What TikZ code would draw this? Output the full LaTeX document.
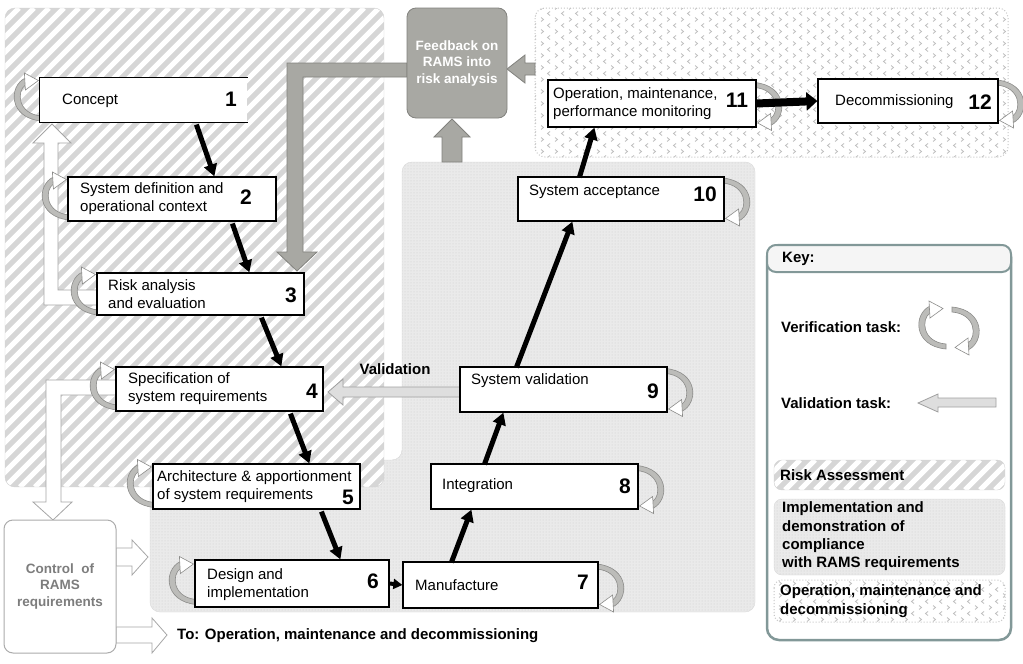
\documentclass[tikz,border=0pt]{standalone}
\usepackage{fontspec}
\setmainfont{Liberation Sans}
\usetikzlibrary{arrows.meta,patterns,calc}
\pgfdeclarelayer{back}
\pgfdeclarelayer{mid}
\pgfsetlayers{back,mid,main}
\definecolor{hatchbg}{RGB}{214,214,214}
\definecolor{implbg}{RGB}{234,234,234}
\definecolor{fbgray}{RGB}{168,168,163}
\definecolor{fbdraw}{RGB}{130,130,126}
\definecolor{valfill}{RGB}{222,222,222}
\definecolor{valdraw}{RGB}{160,160,160}
\definecolor{keyteal}{RGB}{130,152,152}
\definecolor{cycfill}{RGB}{188,188,185}
\definecolor{cycdraw}{RGB}{140,140,138}
\definecolor{ctrltext}{RGB}{125,125,125}
\pgfdeclarepatternformonly{chev}{\pgfqpoint{-1pt}{-1pt}}{\pgfqpoint{15pt}{13pt}}{\pgfqpoint{14pt}{12pt}}{%
  \pgfsetlinewidth{0.8pt}%
  \pgfpathmoveto{\pgfqpoint{4pt}{0.5pt}}\pgfpathlineto{\pgfqpoint{1.5pt}{2.5pt}}\pgfpathlineto{\pgfqpoint{4pt}{4.5pt}}%
  \pgfpathmoveto{\pgfqpoint{9pt}{6.5pt}}\pgfpathlineto{\pgfqpoint{11.5pt}{8.5pt}}\pgfpathlineto{\pgfqpoint{9pt}{10.5pt}}%
  \pgfusepath{stroke}}
\newcommand\bxfont{\fontsize{15}{18}\selectfont}
\newcommand\hatchbox[5]{%
  \begin{scope}
    \clip[rounded corners=#5] (#1,#2) rectangle (#3,#4);
    \fill[hatchbg] (#1,#2) rectangle (#3,#4);
    \foreach \c in {-520,-505,...,1030}{\draw[white,line width=5pt] (\c,#4) -- ++({#4-#2},{#2-#4});}
  \end{scope}
  \draw[gray!35,rounded corners=#5] (#1,#2) rectangle (#3,#4);}
\begin{document}
\begin{tikzpicture}[x=1pt,y=-1pt,
  box/.style={draw=black,line width=1.2pt,fill=white,inner sep=0pt},
  txt/.style={font=\bxfont,inner sep=0pt,align=left,anchor=west},
  num/.style={font=\fontsize{21}{21}\selectfont\bfseries,inner sep=0pt},
  btxt/.style={font=\fontsize{15}{18.3}\selectfont\bfseries,inner sep=0pt,align=left,anchor=west},
  blk/.style={line width=5pt,-{Triangle[length=12pt,width=13pt]}},
  hollow/.style={fill=white,draw=gray!70,line width=0.8pt},
  gblock/.style={fill=fbgray,draw=fbdraw,line width=0.8pt},
  valarrow/.style={fill=valfill,draw=valdraw,line width=0.8pt},
  verif/.pic={
    \fill[cycfill,draw=cycdraw,line width=0.6pt] (-14,-22) .. controls (-31,-14) and (-31,18) .. (2,21) -- (2,16) .. controls (-22,14) and (-23,-9) .. (-14,-15) -- cycle;
    \filldraw[fill=white,draw=cycdraw,line width=0.6pt] (-15,-27) -- (-1,-19.5) -- (-14,-10) -- cycle;
  }]
\useasboundingbox (0,0) rectangle (1023,664);

% ---------- boxes ----------
\node[box,draw=none,minimum width=207pt,minimum height=44pt] (b1) at (143.5,100) {};
\draw[line width=1.2pt] (b1.north east) -- (b1.north west) -- (b1.south west) -- (b1.south east);
\node[box,minimum width=208pt,minimum height=44pt] (b2) at (172,199) {};
\node[box,minimum width=207pt,minimum height=42pt] (b3) at (200.5,294) {};
\node[box,minimum width=207pt,minimum height=44pt] (b4) at (219.5,389) {};
\node[box,minimum width=207pt,minimum height=45pt] (b5) at (256.5,486.5) {};
\node[box,minimum width=194pt,minimum height=47pt] (b6) at (292,583.5) {};
\node[box,minimum width=195pt,minimum height=46pt] (b7) at (500.5,585) {};
\node[box,minimum width=207pt,minimum height=45pt] (b8) at (534.5,486.5) {};
\node[box,minimum width=207pt,minimum height=45pt] (b9) at (563.5,389.5) {};
\node[box,minimum width=206pt,minimum height=44pt] (b10) at (621,199) {};
\node[box,minimum width=208pt,minimum height=47pt] (b11) at (652,103.5) {};
\node[box,minimum width=180pt,minimum height=44pt] (b12) at (908,101) {};

% box texts
\node[txt] (t1) at (62,101) {Concept};
\node[num] (n1) at (231,99) {1};
\node[txt] (t2) at (80,198.5) {System definition and\\operational context};
\node[num] (n2) at (246,197) {2};
\node[txt] (t3) at (108,294) {Risk analysis\\and evaluation};
\node[num] (n3) at (291,295) {3};
\node[txt] (t4) at (128,389) {Specification of\\system requirements};
\node[num] (n4) at (312,391) {4};
\node[txt] (t5) at (157,487) {Architecture \& apportionment\\of system requirements};
\node[num] (n5) at (348,497) {5};
\node[txt] (t6) at (207,584.5) {Design and\\implementation};
\node[num] (n6) at (373,581) {6};
\node[txt] (t7) at (415,585) {Manufacture};
\node[num] (n7) at (583,582) {7};
\node[txt] (t8) at (442,486) {Integration};
\node[num] (n8) at (625,486) {8};
\node[txt] (t9) at (471,381) {System validation};
\node[num] (n9) at (653,391) {9};
\node[txt] (t10) at (529,192) {System acceptance};
\node[num] (n10) at (705,194) {10};
\node[txt] (t11) at (553,104) {Operation, maintenance,\\performance monitoring};
\node[num] (n11) at (737,100) {11};
\node[txt] (t12) at (835,102) {Decommissioning};
\node[num] (n12) at (980,102) {12};

% feedback and control
\node[fill=fbgray,draw=fbdraw,line width=0.8pt,rounded corners=9pt,minimum width=100pt,minimum height=110pt,inner sep=0pt] (fb) at (457,63) {};
\node[font=\fontsize{13.5}{16.5}\selectfont\bfseries,text=white,align=center,inner sep=0pt] (fbt) at (457,63.5) {Feedback on\\RAMS into\\risk analysis};
\node[fill=white,draw=gray!65,line width=1pt,rounded corners=9pt,minimum width=112pt,minimum height=133pt,inner sep=0pt] (ctrl) at (60,586.5) {};
\node[font=\fontsize{13.5}{16.5}\selectfont\bfseries,text=ctrltext,align=center,inner sep=0pt] (ctrlt) at (60,586.5) {Control\ \ of\\RAMS\\requirements};
\node[font=\fontsize{15}{18}\selectfont\bfseries,inner sep=0pt,anchor=west] (tolab) at (177,636) {To: Operation, maintenance and decommissioning};
\node[font=\fontsize{15}{18}\selectfont\bfseries,inner sep=0pt] (vallab) at (395,369) {Validation};

% ---------- key ----------
\node[draw=keyteal,line width=2.5pt,rounded corners=12pt,minimum width=244pt,minimum height=395pt,inner sep=0pt] (key) at (889,442.5) {};
\node[draw=keyteal,fill=gray!8,line width=2pt,rounded corners=9pt,minimum width=244pt,minimum height=27pt,inner sep=0pt] (keyhead) at (889,258.5) {};
\node[btxt] (keyt) at (782,259) {Key:};
\node[btxt] (kver) at (781,327) {Verification task:};
\node[btxt] (kval) at (781,403) {Validation task:};
\node[btxt] (krisk) at (780,475) {Risk Assessment};
\node[btxt] (kimpl) at (782,536.5) {Implementation and\\demonstration of\\compliance\\with RAMS requirements};
\node[btxt] (kop) at (780,601) {Operation, maintenance and\\decommissioning};
\coordinate (kvl) at (944,328);
\coordinate (kvr) at (954,328);

% ---------- black flow arrows ----------
\draw[blk] ([xshift=157pt,yshift=-2pt]b1.south west) -- ([xshift=147pt]b2.north west);
\draw[blk] ([xshift=165pt,yshift=-2pt]b2.south west) -- ([xshift=153pt]b3.north west);
\draw[blk] ([xshift=165pt,yshift=-2pt]b3.south west) -- ([xshift=166pt]b4.north west);
\draw[blk] ([xshift=175pt,yshift=-2pt]b4.south west) -- ([xshift=157pt]b5.north west);
\draw[blk] ([xshift=169pt,yshift=-2pt]b5.south west) -- ([xshift=146pt]b6.north west);
\draw[line width=4pt,-{Triangle[length=9pt,width=10pt]}] (b6.east) -- (b7.west);
\draw[blk] ([xshift=49pt,yshift=-1pt]b7.north west) -- ([xshift=41pt]b8.south west);
\draw[blk] ([xshift=54pt,yshift=-1pt]b8.north west) -- ([xshift=44pt]b9.south west);
\draw[blk] ([xshift=57pt,yshift=-1pt]b9.north west) -- ([xshift=55pt]b10.south west);
\draw[blk] ([xshift=62pt,yshift=-1pt]b10.north west) -- ([xshift=47pt]b11.south west);
\draw[line width=8pt,-{Triangle[length=11pt,width=18pt]}] (b11.east) -- (b12.west);

% ---------- mid layer: block arrows and verification cycles ----------
\begin{pgfonlayer}{mid}
  % hollow arrows
  \filldraw[hollow] (97,290) -- (58,290) -- (58,143) -- (71,143) -- (52,124) -- (33,143) -- (44,143) -- (44,305) -- (97,305) -- cycle;
  \filldraw[hollow] (116,380) -- (46,380) -- (46,502) -- (33,502) -- (53,520) -- (72,502) -- (61,502) -- (61,395) -- (116,395) -- cycle;
  \filldraw[hollow] (116,548) -- (132,548) -- (132,540) -- (148,557) -- (132,575) -- (132,566) -- (116,566) -- cycle;
  \filldraw[hollow] (116,627) -- (152,627) -- (152,618) -- (167,635) -- (152,653) -- (152,643) -- (116,643) -- cycle;
  % gray block arrows (feedback)
  \filldraw[gblock] (407,63) -- (287,63) -- (287,252) -- (277,252) -- (297,271) -- (317,252) -- (303,252) -- (303,77) -- (407,77) -- cycle;
  \filldraw[gblock] (535,63) -- (525,63) -- (525,55) -- (507,69) -- (525,83) -- (525,75) -- (535,75) -- cycle;
  \filldraw[gblock] (442,162) -- (442,137) -- (434,137) -- (452,119) -- (470,137) -- (462,137) -- (462,162) -- cycle;
  % validation arrows
  \filldraw[valarrow] (460,387) -- (343,387) -- (343,379) -- (328,392) -- (343,405) -- (343,397) -- (460,397) -- cycle;
  \filldraw[valarrow] (996,398) -- (938,398) -- (938,394) -- (918,403) -- (938,412) -- (938,407) -- (996,407) -- cycle;
  % verification cycles
  \pic at (b1.west) {verif};
  \pic at (b2.west) {verif};
  \pic at (b3.west) {verif};
  \pic at (b4.west) {verif};
  \pic at (b5.west) {verif};
  \pic at (b6.west) {verif};
  \pic[rotate=180] at (b7.east) {verif};
  \pic[rotate=180] at (b8.east) {verif};
  \pic[rotate=180] at (b9.east) {verif};
  \pic[rotate=180] at (b10.east) {verif};
  \pic[rotate=180] at (b11.east) {verif};
  \pic[rotate=180] at (b12.east) {verif};
  \pic at (kvl) {verif};
  \pic[rotate=180] at (kvr) {verif};
\end{pgfonlayer}

% ---------- back layer: regions ----------
\begin{pgfonlayer}{back}
  \fill[white] (0,0) rectangle (1023,664);
  % implementation region
  \fill[implbg,rounded corners=10pt] (402,162) -- (755,162) -- (755,612) -- (150,612) -- (150,460) -- (402,460) -- cycle;
  \fill[pattern=dots,pattern color=gray!40,rounded corners=10pt] (402,162) -- (755,162) -- (755,612) -- (150,612) -- (150,460) -- (402,460) -- cycle;
  \draw[gray!30,rounded corners=10pt] (402,162) -- (755,162) -- (755,612) -- (150,612) -- (150,460) -- (402,460) -- cycle;
  % risk assessment region
  \hatchbox{5}{8}{384}{487}{10pt}
  % operation region
  \fill[pattern=chev,pattern color=gray!50,rounded corners=10pt] (535,8) rectangle (1008,157);
  \draw[gray!45,dotted,line width=1pt,rounded corners=10pt] (535,8) rectangle (1008,157);
  % key legend swatches
  \hatchbox{774}{460}{1005}{490}{8pt}
  \fill[implbg,rounded corners=8pt] (774,499) rectangle (1005,575);
  \fill[pattern=dots,pattern color=gray!40,rounded corners=8pt] (774,499) rectangle (1005,575);
  \draw[gray!30,rounded corners=8pt] (774,499) rectangle (1005,575);
  \fill[pattern=chev,pattern color=gray!50,rounded corners=8pt] (774,580) rectangle (1005,622);
  \draw[gray!45,dotted,line width=1pt,rounded corners=8pt] (774,580) rectangle (1005,622);
\end{pgfonlayer}
\end{tikzpicture}
\end{document}
